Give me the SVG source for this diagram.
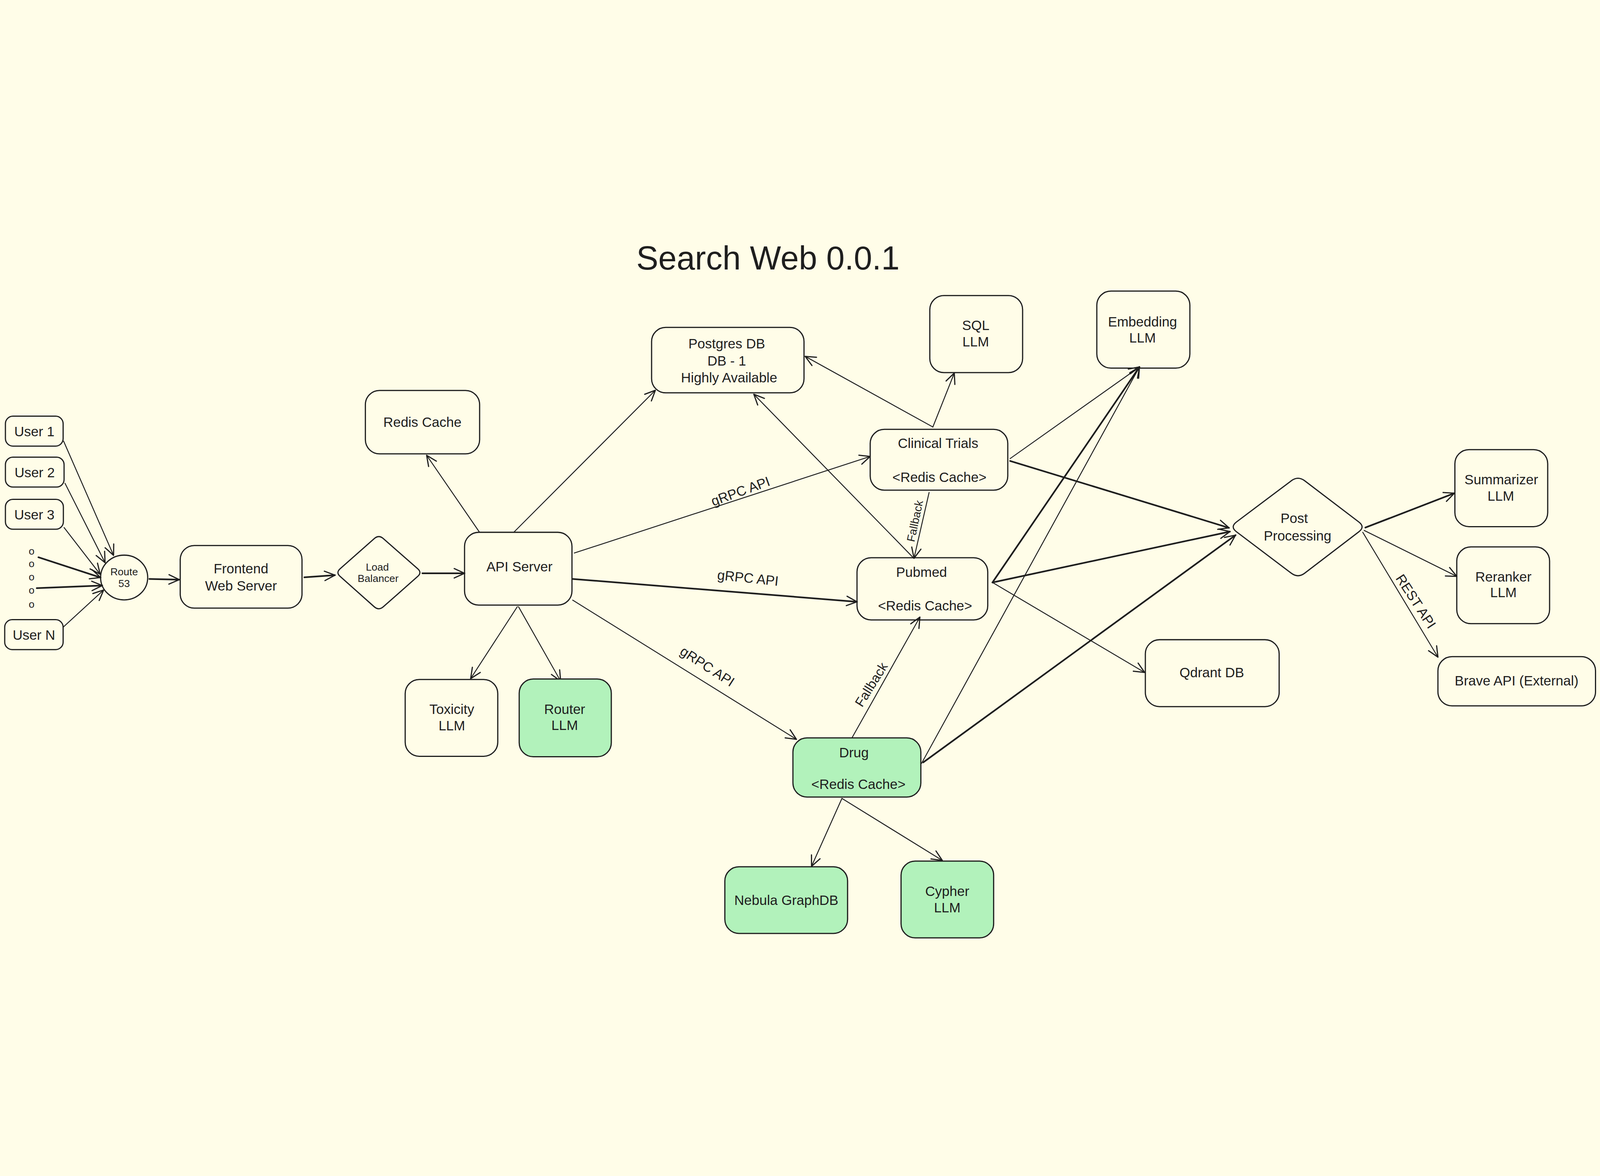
<svg xmlns="http://www.w3.org/2000/svg" width="6792" height="3011" viewBox="0 0 6792 3011">
<defs>
<marker id="ah" markerUnits="userSpaceOnUse" viewBox="-55 -28 62 56" markerWidth="62" markerHeight="56" refX="0" refY="0" orient="auto">
<path d="M-44,-20 L0,0 L-44,20" fill="none" stroke="#1e1e1e" stroke-width="5" stroke-linecap="round" stroke-linejoin="round"/>
</marker>
<style>
svg:root{width:100vw;height:100vh;background:#fffde8}
.box{fill:none;stroke:#1e1e1e;stroke-width:5}
.green{fill:#b2f2bb}
.t{font-family:"Liberation Sans","DejaVu Sans",sans-serif;font-size:58px;fill:#1e1e1e;text-anchor:middle;dominant-baseline:central}
.s{font-size:44px}
.c{fill:none;stroke:#1e1e1e;stroke-width:4;stroke-linecap:round;marker-end:url(#ah)}
.k{stroke-width:7}
</style>
</defs>
<rect width="6792" height="3011" fill="#fffde8"/>
<text class="t" x="3260" y="105" style="font-size:140px">Search Web 0.0.1</text>

<g id="connectors">
<path class="c" d="M270 882 L482 1367"/>
<path class="c" d="M276 1061 L446 1398"/>
<path class="c" d="M272 1249 L425 1447"/>
<path class="c k" d="M163 1375 L427 1461"/>
<path class="c k" d="M156 1506 L434 1495"/>
<path class="c" d="M268 1672 L440 1514"/>
<path class="c k" d="M634 1467 L761 1470"/>
<path class="c k" d="M1292 1460 L1422 1451"/>
<path class="c k" d="M1793 1443 L1972 1443"/>
<path class="c" d="M2035 1268 L1811 942"/>
<path class="c" d="M2182 1268 L2782 666"/>
<path class="c" d="M2438 1357 L3694 947"/>
<path class="c k" d="M2431 1467 L3638 1564"/>
<path class="c" d="M2431 1557 L3381 2148"/>
<path class="c" d="M2196 1585 L1998 1890"/>
<path class="c" d="M2201 1585 L2380 1901"/>
<path class="c" d="M3960 822 L3418 522"/>
<path class="c" d="M3960 822 L4051 593"/>
<path class="c" d="M3880 1380 L3200 683"/>
<path class="c" d="M3944 1100 L3880 1379"/>
<path class="c" d="M4288 956 L4837 567"/>
<path class="c k" d="M4288 966 L5217 1250"/>
<path class="c k" d="M4213 1482 L5221 1266"/>
<path class="c k" d="M4213 1482 L4837 567"/>
<path class="c" d="M4213 1482 L4859 1864"/>
<path class="c" d="M3617 2141 L3905 1629"/>
<path class="c" d="M3912 2250 L4837 567"/>
<path class="c k" d="M3919 2246 L5245 1281"/>
<path class="c" d="M3574 2399 L3445 2687"/>
<path class="c" d="M3574 2399 L4000 2662"/>
<path class="c k" d="M5796 1249 L6174 1103"/>
<path class="c" d="M5791 1261 L6184 1456"/>
<path class="c" d="M5785 1269 L6104 1799"/>
<text class="t" x="3143" y="1094" transform="rotate(-20 3143 1094)">gRPC API</text>
<text class="t" x="3175" y="1462" transform="rotate(6 3175 1462)">gRPC API</text>
<text class="t" x="3003" y="1838" transform="rotate(33 3003 1838)">gRPC API</text>
<text class="t" x="3884" y="1221" style="font-size:48px" transform="rotate(-78 3884 1221)">Fallback</text>
<text class="t" x="3698" y="1915" style="font-size:56px" transform="rotate(-58 3698 1915)">Fallback</text>
<text class="t" x="6011" y="1562" transform="rotate(57 6011 1562)">REST API</text>
</g>

<g id="user1"><rect class="box" x="23" y="776" width="245" height="127" rx="32"/><text class="t" x="146" y="840">User 1</text></g>
<g id="user2"><rect class="box" x="23" y="950" width="249" height="127" rx="32"/><text class="t" x="147" y="1014">User 2</text></g>
<g id="user3"><rect class="box" x="23" y="1129" width="246" height="127" rx="32"/><text class="t" x="146" y="1193">User 3</text></g>
<g id="dots"><text class="t s" x="134" y="1349">o</text><text class="t s" x="134" y="1402">o</text><text class="t s" x="134" y="1458">o</text><text class="t s" x="134" y="1514">o</text><text class="t s" x="134" y="1574">o</text></g>
<g id="userN"><rect class="box" x="20" y="1640" width="248" height="127" rx="32"/><text class="t" x="144" y="1704">User N</text></g>
<g id="route53"><ellipse class="box" cx="527" cy="1461" rx="100" ry="95"/><text class="t s" x="527" y="1437">Route</text><text class="t s" x="527" y="1486">53</text></g>
<g id="frontend"><rect class="box" x="765" y="1325" width="517" height="266" rx="60"/><text class="t" x="1023" y="1422">Frontend</text><text class="t" x="1023" y="1495">Web Server</text></g>
<g id="loadbalancer"><path class="box" d="M1627 1295.5 L1773 1423.5 Q1792 1440 1773 1456.5 L1627 1585.5 Q1608 1602 1589 1585.5 L1444 1456.5 Q1425 1440 1444 1423.5 L1589 1295.5 Q1608 1279 1627 1295.5 Z"/><text class="t s" x="1602" y="1416">Load</text><text class="t s" x="1605" y="1465">Balancer</text></g>
<g id="rediscache"><rect class="box" x="1551" y="667" width="485" height="269" rx="60"/><text class="t" x="1793" y="801">Redis Cache</text></g>
<g id="apiserver"><rect class="box" x="1972" y="1269" width="456" height="309" rx="60"/><text class="t" x="2205" y="1415">API Server</text></g>
<g id="toxicity"><rect class="box" x="1720" y="1894" width="393" height="326" rx="60"/><text class="t" x="1918" y="2020">Toxicity</text><text class="t" x="1918" y="2090">LLM</text></g>
<g id="router"><rect class="box green" x="2204" y="1892" width="391" height="330" rx="60"/><text class="t" x="2397" y="2020">Router</text><text class="t" x="2397" y="2088">LLM</text></g>
<g id="postgres"><rect class="box" x="2766" y="399" width="647" height="278" rx="60"/><text class="t" x="3085" y="468">Postgres DB</text><text class="t" x="3085" y="540">DB - 1</text><text class="t" x="3095" y="612">Highly Available</text></g>
<g id="sql"><rect class="box" x="3947" y="264" width="394" height="327" rx="60"/><text class="t" x="4142" y="390">SQL</text><text class="t" x="4142" y="459">LLM</text></g>
<g id="embedding"><rect class="box" x="4656" y="245" width="395" height="327" rx="60"/><text class="t" x="4850" y="375">Embedding</text><text class="t" x="4850" y="442">LLM</text></g>
<g id="clinical"><rect class="box" x="3694" y="832" width="584" height="258" rx="60"/><text class="t" x="3982" y="891">Clinical Trials</text><text class="t" x="3988" y="1034">&lt;Redis Cache&gt;</text></g>
<g id="pubmed"><rect class="box" x="3638" y="1377" width="555" height="264" rx="60"/><text class="t" x="3912" y="1437">Pubmed</text><text class="t" x="3927" y="1580">&lt;Redis Cache&gt;</text></g>
<g id="qdrant"><rect class="box" x="4862" y="1725" width="568" height="284" rx="60"/><text class="t" x="5144" y="1864">Qdrant DB</text></g>
<g id="drug"><rect class="box green" x="3366" y="2142" width="543" height="251" rx="60"/><text class="t" x="3625" y="2204">Drug</text><text class="t" x="3644" y="2338">&lt;Redis Cache&gt;</text></g>
<g id="nebula"><rect class="box green" x="3077" y="2689" width="521" height="283" rx="60"/><text class="t" x="3338" y="2831">Nebula GraphDB</text></g>
<g id="cypher"><rect class="box green" x="3825" y="2665" width="393" height="326" rx="60"/><text class="t" x="4021" y="2792">Cypher</text><text class="t" x="4021" y="2862">LLM</text></g>
<g id="postprocessing"><path class="box" d="M5538 1050 L5768 1225 Q5796 1246 5768 1267 L5538 1443 Q5510 1464 5482 1443 L5249 1267 Q5221 1246 5249 1225 L5482 1050 Q5510 1029 5538 1050 Z"/><text class="t" x="5494" y="1209">Post</text><text class="t" x="5508" y="1284">Processing</text></g>
<g id="summarizer"><rect class="box" x="6176" y="918" width="394" height="327" rx="60"/><text class="t" x="6373" y="1045">Summarizer</text><text class="t" x="6371" y="1115">LLM</text></g>
<g id="reranker"><rect class="box" x="6184" y="1331" width="394" height="326" rx="60"/><text class="t" x="6382" y="1457">Reranker</text><text class="t" x="6382" y="1524">LLM</text></g>
<g id="brave"><rect class="box" x="6104" y="1797" width="669" height="209" rx="60"/><text class="t" x="6438" y="1898">Brave API (External)</text></g>
</svg>
